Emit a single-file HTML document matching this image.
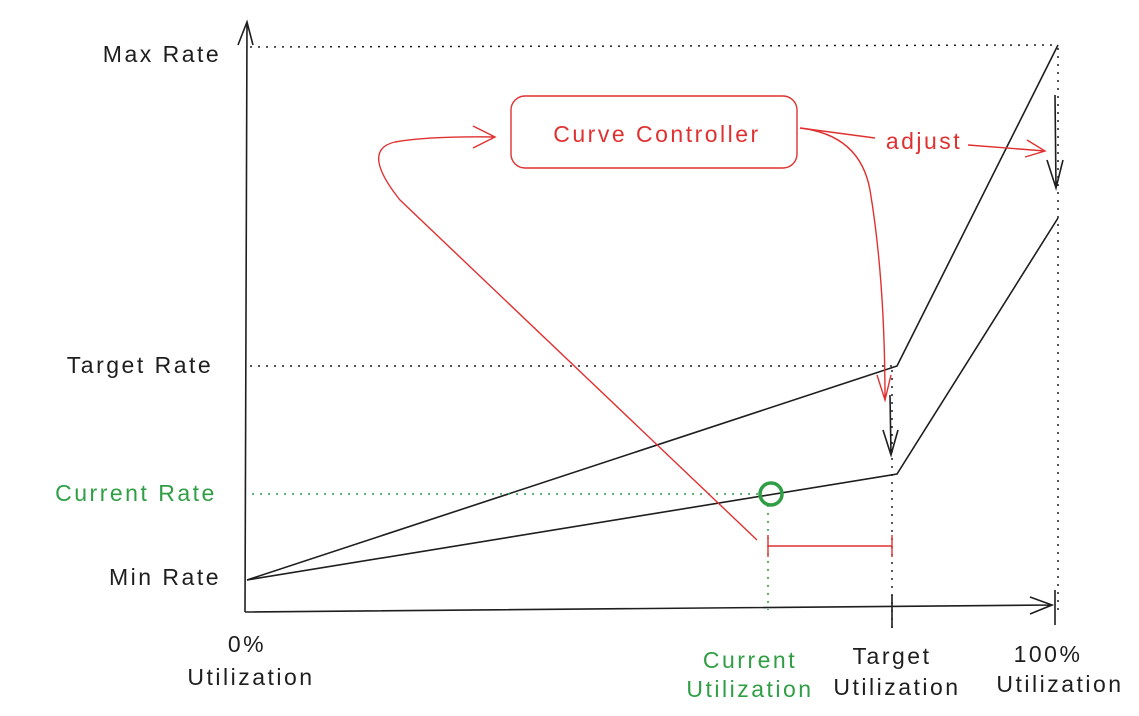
<!DOCTYPE html>
<html><head><style>body{margin:0;background:#fff}svg{display:block}text{font-family:"Liberation Sans",sans-serif;font-size:23px;letter-spacing:2.5px}</style></head><body>
<svg width="1139" height="716" viewBox="0 0 1139 716">
<g fill="none" stroke="#1e1e1e" stroke-width="1.6">
<path d="M245 612 L247 22 M238 45 L247 22 L253 45"/>
<path d="M245 612 L1052 605 M1030 597 L1052 605 L1030 614"/>
<path d="M247 580 L897 366 L1058 45"/>
<path d="M247 580 L897 474 L1058 218"/>
<path d="M1055 95 L1056 188 M1047 160 L1056 188 L1063 160"/>
<path d="M890 395 L891 455 M883 430 L891 455 L898 430"/>
<path d="M892 595 L892 628 M1055 590 L1055 625"/>
</g>
<g fill="none" stroke="#1e1e1e" stroke-width="1.5" stroke-dasharray="2 6">
<path d="M250 47 L1058 45 M250 366 L895 366 M1058 48 L1058 612 M892 370 L892 630"/>
</g>
<g fill="none" stroke="#2f9e44" stroke-width="1.5" stroke-dasharray="2 6">
<path d="M252 494 L758 494 M768 505 L768 610"/>
</g>
<circle cx="771" cy="494" r="11" fill="none" stroke="#2f9e44" stroke-width="3.5"/>
<g fill="none" stroke="#e03131" stroke-width="1.4">
<rect x="511" y="96" width="286" height="72" rx="14"/>
<path d="M757 540 L400 200 Q360 150 395 142 Q430 136 495 137 M473 126 L495 137 L473 148"/>
<path d="M800 128 Q860 135 870 190 Q885 280 885 400 M877 375 L885 400 L891 375"/>
<path d="M800 128 L875 138 M968 145 L1045 151 M1027 140 L1045 151 L1025 157"/>
<path d="M768 546 L892 546 M768 535 L768 557 M892 535 L892 557"/>
</g>
<g fill="#1e1e1e" text-anchor="middle">
<text x="162" y="62">Max Rate</text>
<text x="140" y="373">Target Rate</text>
<text x="165" y="585">Min Rate</text>
<text x="247" y="652">0%</text>
<text x="251" y="685">Utilization</text>
<text x="892" y="664">Target</text>
<text x="897" y="695">Utilization</text>
<text x="1048" y="662">100%</text>
<text x="1060" y="692">Utilization</text>
</g>
<g fill="#2f9e44" text-anchor="middle">
<text x="136" y="501">Current Rate</text>
<text x="750" y="668">Current</text>
<text x="750" y="697">Utilization</text>
</g>
<g fill="#e03131" text-anchor="middle">
<text x="657" y="142">Curve Controller</text>
<text x="924" y="149">adjust</text>
</g>
</svg>
</body></html>
